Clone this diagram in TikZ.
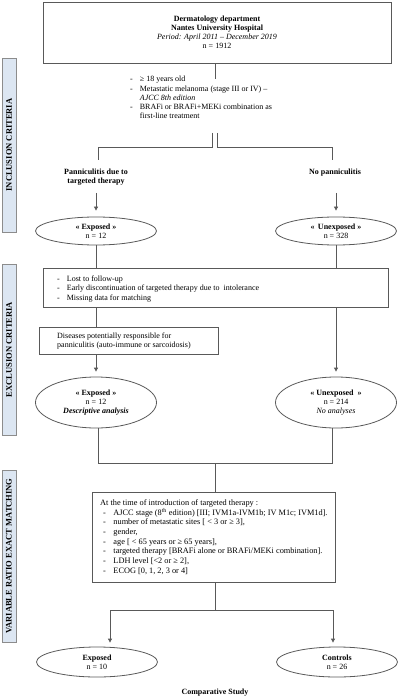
\documentclass[tikz,border=0pt]{standalone}
\usepackage{fontspec}
\setmainfont{Liberation Serif}
\usetikzlibrary{arrows.meta,shapes.geometric}
\definecolor{barblue}{HTML}{DCE6F2}
\definecolor{lncol}{HTML}{595959}
\begin{document}
\begin{tikzpicture}[x=1pt,y=-1pt,
  ln/.style={draw=lncol, line width=0.8pt},
  arr/.style={ln, -{Triangle[length=4pt,width=4pt]}},
  box/.style={draw=lncol, line width=0.8pt, rectangle, inner sep=0pt},
  oval/.style={draw=lncol, line width=0.8pt, ellipse, inner sep=0pt, align=center, minimum width=121pt, font=\fontsize{8}{9}\selectfont},
  bar/.style={draw=black!45, fill=barblue, line width=0.8pt, rectangle, inner sep=0pt, minimum width=14pt},
  bartext/.style={inner sep=0pt, rotate=90, font=\fontsize{8.5}{9}\selectfont\bfseries},
  txt/.style={inner sep=0pt, align=left, font=\fontsize{8}{9.3}\selectfont},
  lbl/.style={inner sep=0pt, align=center, font=\fontsize{8}{9}\selectfont\bfseries}]
\useasboundingbox (0,0) rectangle (401,700);

% side bars
\node[bar, minimum height=174pt] (b1) at (9,145) {};
\node[bartext] (b1t) at (b1.center) {INCLUSION CRITERIA};
\node[bar, minimum height=171pt] (b2) at (9,349.5) {};
\node[bartext] (b2t) at (b2.center) {EXCLUSION CRITERIA};
\node[bar, minimum height=172pt] (b3) at (9,556) {};
\node[bartext] (b3t) at (b3.center) {VARIABLE RATIO EXACT MATCHING};

% top box
\node[box, minimum width=348pt, minimum height=61pt, align=center, font=\fontsize{8}{9}\selectfont] (top) at (217,32.5)
  {\textbf{Dermatology department}\\ \textbf{Nantes University Hospital}\\ \textit{Period: April 2011 – December 2019}\\ n = 1912};

% inclusion criteria text
\node[txt, anchor=north west] (crit) at (130,75)
  {\begin{tabular}{@{}l@{\hspace{7pt}}l@{}}
   -& ≥ 18 years old\\
   -& Metastatic melanoma (stage III or IV) –\\
    & \textit{AJCC 8th edition}\\
   -& BRAFi or BRAFi+MEKi combination as\\
    & first-line treatment
   \end{tabular}};

\coordinate (t2) at (215,79);
\draw[ln] (top.south -| t2) -- (t2);

\coordinate (sl1) at (212,133);
\coordinate (sl2) at (212,147);
\coordinate (sl3) at (98,147);
\coordinate (sl4) at (98,160);
\coordinate (sr1) at (217,133);
\coordinate (sr2) at (217,147);
\coordinate (sr3) at (332,147);
\coordinate (sr4) at (332,160);
\draw[ln] (sl1) -- (sl2) -- (sl3) -- (sl4);
\draw[ln] (sr1) -- (sr2) -- (sr3) -- (sr4);

\node[lbl] (pan) at (96,177) {Panniculitis due to\\targeted therapy};
\node[lbl] (nopan) at (335,173) {No panniculitis};

\node[oval, minimum height=28pt] (e1) at (96,231) {\textbf{« Exposed »}\\n = 12};
\node[oval, minimum height=28pt] (u1) at (336,231) {\textbf{«\ \,Unexposed »}\\n = 328};

\draw[arr, shorten >=6pt] (pan.south |- 0,193) -- (e1.north);
\draw[arr, shorten >=6pt] (336,193) -- (u1.north);

% exclusion box
\node[box, minimum width=345pt, minimum height=39pt] (ex) at (215.5,287.5) {};
\node[txt, anchor=west] (ext) at (57,289)
  {\begin{tabular}{@{}l@{\hspace{7pt}}l@{}}
   -& Lost to follow-up\\
   -& Early discontinuation of targeted therapy due to\ \ intolerance\\
   -& Missing data for matching
   \end{tabular}};
\draw[ln] (e1.south) -- (e1.south |- ex.north);
\draw[ln] (u1.south) -- (u1.south |- ex.north);

% diseases box
\node[box, minimum width=179pt, minimum height=27pt] (dis) at (128.5,340.5) {};
\node[txt, anchor=west] (dist) at (57,341)
  {Diseases potentially responsible for\\panniculitis (auto-immune or sarcoidosis)};
\draw[ln] (dis.north -| e1.south) -- (ex.south -| e1.south);

\node[oval, minimum height=51pt] (e2) at (96,402.5) {\textbf{« Exposed »}\\n = 12\\\textbf{\textit{Descriptive analysis}}};
\node[oval, minimum height=51pt] (u2) at (336,402.5) {\textbf{« Unexposed\ \ »}\\n = 214\\\textit{No analyses}};

\draw[arr, shorten >=5pt] (dis.south -| e2.north) -- (e2.north);
\draw[arr, shorten >=5pt] (ex.south -| u2.north) -- (u2.north);

% merge
\coordinate (m1) at (98,463);
\coordinate (m2) at (332,463);
\coordinate (m3) at (215,463);
\draw[ln] (e2.south -| m1) -- (m1) -- (m2) -- (u2.south -| m2);

% matching box
\node[box, minimum width=243pt, minimum height=90pt] (mt) at (213.5,537) {};
\draw[ln] (m3) -- (m3 |- mt.north);
\node[txt, anchor=west, font=\fontsize{8.3}{9.7}\selectfont] (mtt) at (100,538)
  {At the time of introduction of targeted therapy :\\
   \begin{tabular}{@{\hspace{3pt}}l@{\hspace{7.5pt}}l@{}}
   -& AJCC stage (8\textsuperscript{th} edition) [III; IVM1a-IVM1b; IV M1c; IVM1d].\\
   -& number of metastatic sites [ < 3 or ≥ 3],\\
   -& gender,\\
   -& age [ < 65 years or ≥ 65 years],\\
   -& targeted therapy [BRAFi alone or BRAFi/MEKi combination].\\
   -& LDH level [<2 or ≥ 2],\\
   -& ECOG [0, 1, 2, 3 or 4]
   \end{tabular}};

\coordinate (f1) at (215,610);
\coordinate (f2) at (110,610);
\coordinate (f3) at (333,610);
\draw[ln] (mt.south -| f1) -- (f1);
\draw[ln] (f2) -- (f3);

\node[oval, minimum height=30pt] (e3) at (97,662) {\textbf{Exposed}\\n = 10};
\node[oval, minimum height=30pt] (c3) at (337,662) {\textbf{Controls}\\n = 26};
\draw[arr, shorten >=4pt] (f2) -- (f2 |- e3.north);
\draw[arr, shorten >=4pt] (f3) -- (f3 |- c3.north);

\node[lbl] (comp) at (215,693) {Comparative Study};
\end{tikzpicture}
\end{document}
